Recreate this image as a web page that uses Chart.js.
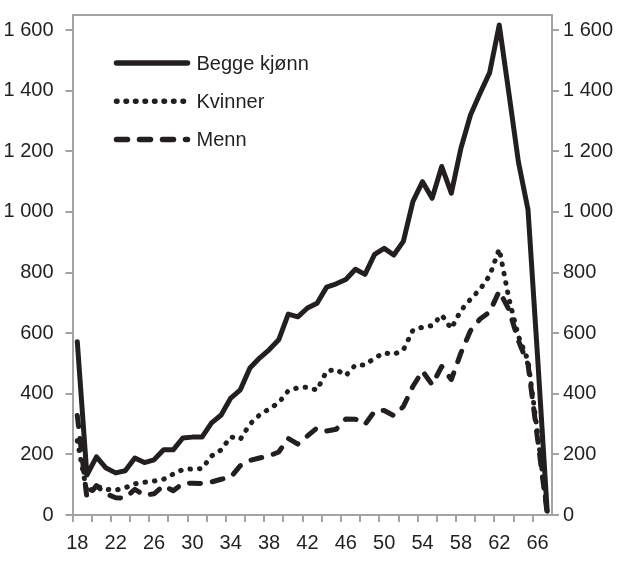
<!DOCTYPE html>
<html>
<head>
<meta charset="utf-8">
<script src="https://cdn.jsdelivr.net/npm/chart.js@4.4.1/dist/chart.umd.min.js"></script>
<style>
  html, body { margin:0; padding:0; background:#fff; }
  #wrap { width:620px; height:570px; }
</style>
</head>
<body>
<div id="wrap"><canvas id="grafico"></canvas></div>
<script>
// data
let alder = [18,19,20,21,22,23,24,25,26,27,28,29,30,31,32,33,34,35,36,37,38,39,40,41,42,
             43,44,45,46,47,48,49,50,51,52,53,54,55,56,57,58,59,60,61,62,63,64,65,66,67];
let begge = [572,132,192,155,139,146,188,173,182,215,215,254,257,257,304,330,386,413,485,518,545,578,663,654,683,
             699,752,763,777,811,794,860,880,858,903,1035,1100,1045,1150,1062,1210,1320,1392,1460,1617,1393,1165,1007,520,13];
let kvinner = [245,75,95,85,82,90,103,108,112,118,135,150,152,153,195,215,258,250,300,330,350,370,410,420,422,
               412,475,480,460,495,495,518,535,530,545,610,620,625,660,615,675,712,745,790,878,715,590,510,270,8];
let menn = [328,57,97,70,57,56,85,65,70,97,80,104,105,104,109,118,125,163,180,188,195,208,253,234,261,
            287,277,283,317,316,299,342,345,328,358,425,475,430,490,447,535,608,647,670,739,678,575,497,250,5];
let yTicks = [0,200,400,600,800,1000,1200,1400,1600];

let tekst = '#231f20';
let akse = '#a3a3a3';
let font = { family:"'Liberation Sans', Arial, sans-serif", size:20 };

function tall(v){
    // 1600 -> "1 600"
    let s = String(v);
    if(s.length > 3){
        s = s.slice(0, s.length-3) + ' ' + s.slice(s.length-3);
    }
    return s;
}

// top line of the frame
let ramme = {
    id:'ramme',
    afterDraw(chart){
        let c = chart.ctx, a = chart.chartArea;
        c.save();
        c.strokeStyle = akse;
        c.lineWidth = 2;
        c.beginPath();
        c.moveTo(a.left, a.top);
        c.lineTo(a.right, a.top);
        c.stroke();
        c.restore();
    }
};

// legend inside the plot, drawn from the datasets
let forklaring = {
    id:'forklaring',
    afterDraw(chart){
        let c = chart.ctx, a = chart.chartArea;
        c.save();
        chart.data.datasets.forEach((ds, i) => {
            let y = a.top + 48 + i*38.3;
            let x0 = a.left + 44;
            c.strokeStyle = ds.borderColor;
            c.lineWidth = 5.5;
            c.lineCap = 'round';
            c.setLineDash(ds.borderDash || []);
            c.beginPath();
            c.moveTo(x0, y);
            c.lineTo(x0 + 71, y);
            c.stroke();
            c.setLineDash([]);
            c.fillStyle = tekst;
            c.font = font.size + 'px ' + font.family;
            c.textBaseline = 'middle';
            c.fillText(ds.label, x0 + 80, y + 1);
        });
        c.restore();
    }
};

function yAkse(side){
    return {
        type:'linear',
        position:side,
        min:0,
        max:1650,
        afterBuildTicks(scale){
            scale.ticks = yTicks.map(v => ({ value:v }));
        },
        afterFit(scale){
            scale.width = side == 'left' ? 72.5 : 68;
            scale.paddingTop = 0;
            scale.paddingBottom = 0;
        },
        ticks:{
            color:tekst,
            font:font,
            padding: side == 'left' ? 12 : 4,
            callback:(v) => tall(v)
        },
        grid:{ drawOnChartArea:false, color:akse, lineWidth:2, tickLength:7 },
        border:{ color:akse, width:2 }
    };
}

let canvas = document.getElementById('grafico').getContext('2d');
let G1 = new Chart(canvas, {
    type:'line',
    data:{
        labels:alder,
        datasets:[
            { label:'Begge kjønn', data:begge, borderColor:tekst, borderWidth:5 },
            { label:'Kvinner', data:kvinner, borderColor:tekst, borderWidth:5, borderDash:[0.5, 9] },
            { label:'Menn', data:menn, borderColor:tekst, borderWidth:5, borderDash:[11, 12] }
        ]
    },
    options:{
        responsive:true,
        maintainAspectRatio:false,
        animation:false,
        layout:{ padding:{ top:15, left:0, right:0, bottom:0 } },
        elements:{
            point:{ radius:0 },
            line:{ tension:0, borderCapStyle:'round', borderJoinStyle:'round' }
        },
        plugins:{ legend:{ display:false }, tooltip:{ enabled:false } },
        scales:{
            x:{
                type:'category',
                offset:true,
                afterFit(scale){
                    scale.height = 55;
                    scale.paddingLeft = 0;
                    scale.paddingRight = 0;
                },
                ticks:{
                    color:tekst,
                    font:font,
                    autoSkip:false,
                    maxRotation:0,
                    padding:9,
                    callback:(v, i) => i % 4 == 0 ? alder[i] : ''
                },
                grid:{
                    offset:true,
                    drawOnChartArea:false,
                    tickLength:7,
                    lineWidth:2,
                    color:(ctx) => ctx.index % 2 == 0 ? akse : 'rgba(0,0,0,0)'
                },
                border:{ color:akse, width:2 }
            },
            y:yAkse('left'),
            y1:yAkse('right')
        }
    },
    plugins:[ramme, forklaring]
});
</script>
</body>
</html>
